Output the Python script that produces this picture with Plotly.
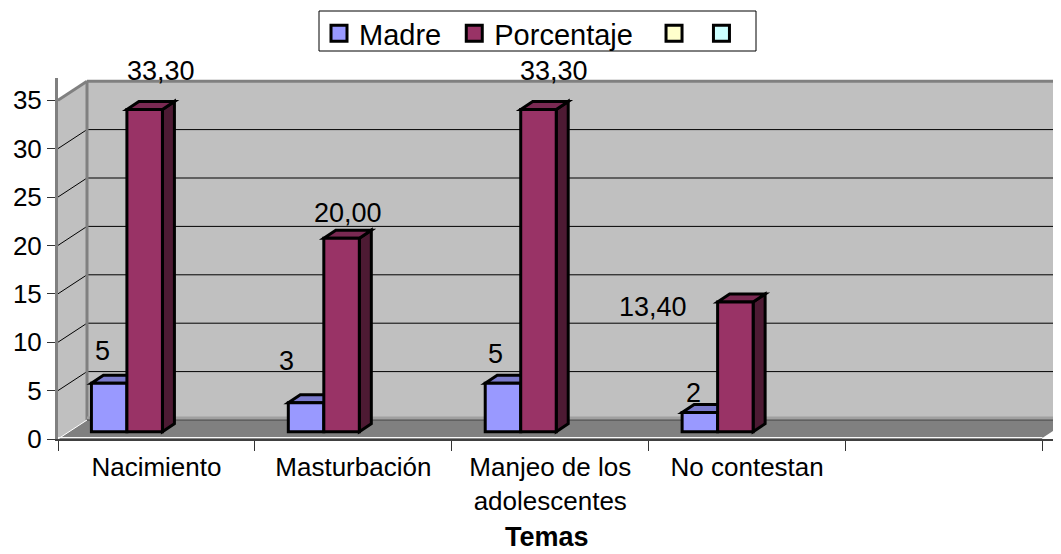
import plotly.graph_objects as go

categories = ['Nacimiento', 'Masturbación', 'Manjeo de los<br>adolescentes', 'No contestan', ' ']
madre = [5, 3, 5, 2, None]
porcentaje = [33.3, 20.0, 33.3, 13.4, None]
madre_labels = ['5', '3', '5', '2']
porcentaje_labels = ['33,30', '20,00', '33,30', '13,40']
y_ticks = [0, 5, 10, 15, 20, 25, 30, 35]

# pixel scale of the picture, used to turn the fake 3D depth into axis units
PX_X = 196.9
PX_Y = 9.68
WALL_DX = 29 / PX_X
WALL_DY = 19 / PX_Y
BAR_DX = 12 / PX_X
BAR_DY = 8 / PX_Y
BAR_BASE = 0.75
BAR_W = 35.5 / PX_X
GROUP_X = 0.35
X_MAX = (1061 - 58) / PX_X
Y_MAX = (439 - 78) / PX_Y
FONT = 'Liberation Sans'
# the page body has an 8px margin, so the figure is 8px smaller and starts at 8,8
PAGE = 8

C_MADRE = '#9999ff'
C_PORC = '#993366'
C_MADRE_TOP = '#7a7acc'
C_PORC_TOP = '#7a2952'
C_PORC_SIDE = '#4d1a33'
C_EXTRA1 = '#ffffcc'
C_EXTRA2 = '#ccffff'
C_WALL = '#c0c0c0'
C_EDGE = '#808080'


def poly(points, fill, line='black', width=3):
    path = 'M ' + ' L '.join(f'{x},{y}' for x, y in points) + ' Z'
    return dict(type='path', path=path, xref='x', yref='y', layer='below',
                fillcolor=fill, line=dict(color=line, width=width))


def seg(x0, y0, x1, y1, color='black', width=1):
    return dict(type='line', x0=x0, y0=y0, x1=x1, y1=y1, xref='x', yref='y',
                layer='below', line=dict(color=color, width=width))


def paper_x(px):
    return (px - 58) / (1061 - 58)


def paper_y(px):
    return (439 - px) / (439 - 78)


shapes = []
# paredes y piso
shapes.append(poly([(0, 0), (WALL_DX, WALL_DY), (WALL_DX, 35 + WALL_DY), (0, 35)], C_WALL, C_WALL, 0))
shapes.append(poly([(WALL_DX, WALL_DY), (X_MAX + 1, WALL_DY), (X_MAX + 1, 35 + WALL_DY), (WALL_DX, 35 + WALL_DY)], C_WALL, C_WALL, 0))
shapes.append(poly([(0, 0), (WALL_DX, WALL_DY), (5 + WALL_DX, WALL_DY), (5, 0)], C_EDGE, C_EDGE, 0))
for v in y_ticks[1:-1]:
    shapes.append(seg(0, v, WALL_DX, v + WALL_DY))
    shapes.append(seg(WALL_DX, v + WALL_DY, X_MAX + 1, v + WALL_DY))
shapes.append(seg(0, 35, WALL_DX, 35 + WALL_DY, C_EDGE, 3))
shapes.append(seg(WALL_DX, 35 + WALL_DY, X_MAX + 1, 35 + WALL_DY, C_EDGE, 3))
shapes.append(seg(WALL_DX, WALL_DY, WALL_DX, 35 + WALL_DY, C_EDGE, 3))
shapes.append(seg(WALL_DX, WALL_DY + 0.2, X_MAX + 1, WALL_DY + 0.2, '#a0a0a0', 3))
shapes.append(seg(WALL_DX, WALL_DY, X_MAX + 1, WALL_DY, '#404040', 1))
shapes.append(seg(0, 0, WALL_DX, WALL_DY, 'white', 1))
shapes.append(seg(5, 0, X_MAX, (X_MAX - 5) / WALL_DX * WALL_DY, 'white', 2))
shapes.append(seg(0, 0.15, 5, 0.15, 'white', 1))

# caras laterales y superiores de las barras
x_madre = []
x_porc = []
for i in range(4):
    xm = i + GROUP_X - BAR_W / 2
    xp = i + GROUP_X + BAR_W / 2
    x_madre.append(xm)
    x_porc.append(xp)
    l, r = xm - BAR_W / 2, xm + BAR_W / 2
    t = madre[i] + BAR_BASE
    shapes.append(poly([(l, t), (l + BAR_DX, t + BAR_DY), (r + BAR_DX, t + BAR_DY), (r, t)], C_MADRE_TOP))
    l, r = xp - BAR_W / 2, xp + BAR_W / 2
    t = porcentaje[i] + BAR_BASE
    shapes.append(poly([(r, BAR_BASE), (r + BAR_DX, BAR_BASE + BAR_DY), (r + BAR_DX, t + BAR_DY), (r, t)], C_PORC_SIDE))
    shapes.append(poly([(l, t), (l + BAR_DX, t + BAR_DY), (r + BAR_DX, t + BAR_DY), (r, t)], C_PORC_TOP))

# recuadro de la leyenda, la leyenda de plotly sale mas alta que el original
shapes.append(dict(type='rect', xref='paper', yref='paper', x0=paper_x(319), x1=paper_x(756),
                   y0=paper_y(51), y1=paper_y(11), fillcolor='white', line=dict(color='black', width=1)))

fig = go.Figure()
bar_line = dict(color='black', width=3)
fig.add_trace(go.Bar(x=x_madre, y=madre[:4], base=BAR_BASE, width=BAR_W, showlegend=False,
                     marker=dict(color=C_MADRE, line=bar_line)))
fig.add_trace(go.Bar(x=x_porc, y=porcentaje[:4], base=BAR_BASE, width=BAR_W, showlegend=False,
                     marker=dict(color=C_PORC, line=bar_line)))
# la leyenda usa marcadores cuadrados, las barras de plotly dan un cuadro muy chico
legend_items = [('Madre\u00a0', C_MADRE), ('Porcentaje\u00a0\u00a0', C_PORC), ('\u200a', C_EXTRA1), ('\u200a', C_EXTRA2)]
for name, color in legend_items:
    fig.add_trace(go.Scatter(x=[None], y=[None], mode='markers', name=name,
                             marker=dict(symbol='square', size=16, color=color, line=dict(color='black', width=3))))

# etiquetas de datos (colocadas a mano en el original)
madre_shift = [(-7, 32), (-20, 42), (-7, 29), (-6, 19)]
porc_shift = [(16, 38), (6, 25), (16, 38), (-82, -5)]
for i in range(4):
    fig.add_annotation(x=x_madre[i], y=madre[i] + BAR_BASE, text=madre_labels[i], showarrow=False,
                       xshift=madre_shift[i][0], yshift=madre_shift[i][1], font=dict(size=27))
    fig.add_annotation(x=x_porc[i], y=porcentaje[i] + BAR_BASE, text=porcentaje_labels[i], showarrow=False,
                       xshift=porc_shift[i][0], yshift=porc_shift[i][1], font=dict(size=27))
fig.add_annotation(xref='paper', x=paper_x(547), yref='paper', y=paper_y(537), yanchor='middle', text='<b>Temas</b>',
                   showarrow=False, font=dict(size=27))

fig.update_layout(
    width=1061 - PAGE, height=554 - PAGE,
    margin=dict(l=58 - PAGE, r=0, t=78 - PAGE, b=115, pad=0),
    paper_bgcolor='white', plot_bgcolor='white',
    barmode='overlay', shapes=shapes,
    font=dict(family=FONT, size=26, color='black'),
    legend=dict(orientation='h', x=paper_x(319), xanchor='left', y=paper_y(8), yanchor='top',
                borderwidth=0, bgcolor='rgba(0,0,0,0)',
                font=dict(size=29), traceorder='normal'),
    xaxis=dict(range=[0, X_MAX], tickmode='array', tickvals=[i + 0.5 for i in range(5)], ticktext=categories,
               ticks='', showgrid=False, zeroline=False, showline=True, linecolor='#404040', linewidth=2,
               ticklabelstandoff=4,
               minor=dict(tickvals=[0, 1, 2, 3, 4, 5], ticks='outside', ticklen=10, tickcolor='#333333', tickwidth=1, showgrid=False)),
    yaxis=dict(range=[0, Y_MAX], tickmode='array', tickvals=y_ticks, ticks='outside', ticklen=8,
               tickcolor='#333333', showgrid=False, zeroline=False, showline=True, linecolor=C_EDGE, linewidth=3),
)

fig.write_html('out.html')
